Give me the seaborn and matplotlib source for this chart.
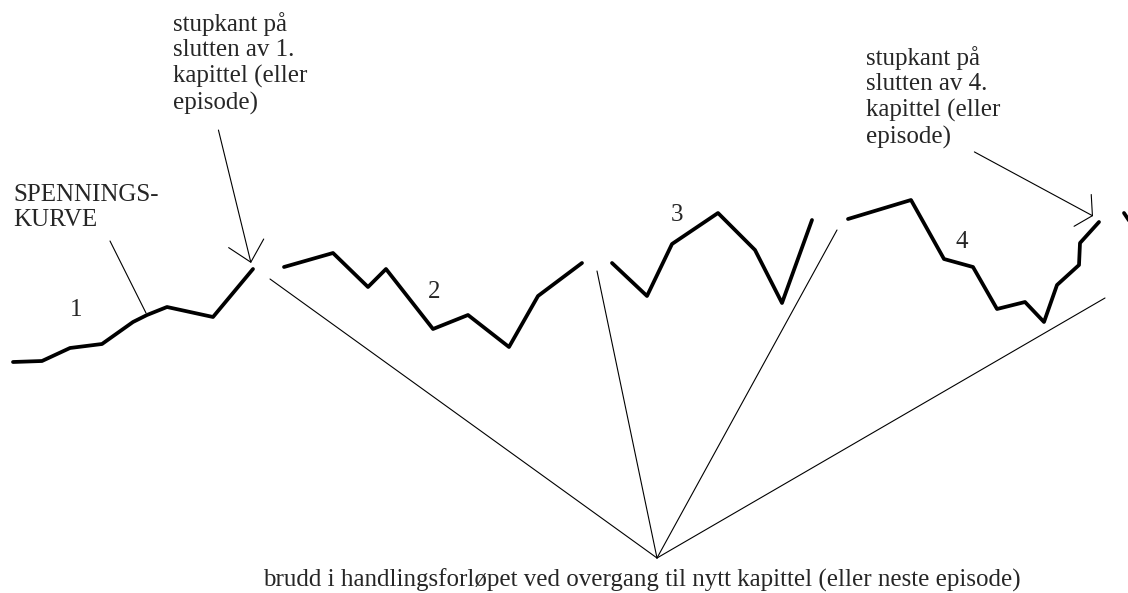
#Spenningskurve - tension curve across chapters
import numpy as np
import matplotlib.pyplot as plt
import seaborn as sns

# curve segments, one per chapter (x, y in picture units, y grows downward)
seg1_x = [13, 42, 70, 102, 133, 147, 167, 213, 253]
seg1_y = [362, 361, 348, 344, 322, 315, 307, 317, 269]
seg2_x = [284, 333, 368, 386, 433, 468, 509, 538, 582]
seg2_y = [267, 253, 287, 269, 329, 315, 347, 296, 263]
seg3_x = [612, 647, 672, 718, 755, 782, 812]
seg3_y = [263, 296, 244, 213, 250, 303, 220]
seg4_x = [848, 911, 944, 973, 997, 1025, 1044, 1057, 1079, 1080, 1099]
seg4_y = [219, 200, 259, 267, 309, 302, 322, 285, 265, 243, 222]
seg5_x = [1124, 1134]
seg5_y = [213, 228]
segments = [(seg1_x, seg1_y), (seg2_x, seg2_y), (seg3_x, seg3_y),
            (seg4_x, seg4_y), (seg5_x, seg5_y)]

chapter_labels = ['1', '2', '3', '4']
chapter_label_x = [76, 434, 677, 962]
chapter_label_y = [310, 292, 215, 242]

# breaks between chapters, all pointing to one spot above the caption
break_x = [270, 597, 837, 1105]
break_y = [279, 271, 230, 298]
hub_x, hub_y = 657, 558

cliff1_text = 'stupkant på\nslutten av 1.\nkapittel (eller\nepisode)'
cliff4_text = 'stupkant på\nslutten av 4.\nkapittel (eller\nepisode)'
curve_text = 'SPENNINGS-\nKURVE'
caption = 'brudd i handlingsforløpet ved overgang til nytt kapittel (eller neste episode)'

W, H = 1128, 593
sns.set_style('white')
plt.rcParams['font.family'] = ['Liberation Serif', 'DejaVu Serif']

fig = plt.figure(figsize=(W / 100, H / 100), dpi=100)
ax = fig.add_axes([0, 0, 1, 1])

# thick tension curve
for sx, sy in segments:
    sns.lineplot(x=sx, y=sy, sort=False, estimator=None, color='black',
                 linewidth=2.7, ax=ax)

# thin lines to the chapter breaks
for bx, by in zip(break_x, break_y):
    sns.lineplot(x=[bx, hub_x], y=[by, hub_y], sort=False, estimator=None,
                 color='black', linewidth=0.8, ax=ax)

# pointer from SPENNINGS-KURVE to curve
sns.lineplot(x=[110, 146], y=[241, 313], sort=False, estimator=None,
             color='black', linewidth=0.8, ax=ax)

fs = 18
for lab, lx, ly in zip(chapter_labels, chapter_label_x, chapter_label_y):
    ax.text(lx, ly, lab, fontsize=fs, ha='center', va='center')

ax.text(13, 184, curve_text, fontsize=fs, ha='left', va='top')

ax.annotate(cliff1_text, xy=(251, 263), xytext=(173, 12), fontsize=fs,
            ha='left', va='top',
            arrowprops=dict(arrowstyle='->,head_length=0.7,head_width=0.65',
                            mutation_scale=20, lw=0.8, color='black',
                            shrinkA=9, shrinkB=0,
                            relpos=(0.31, 0.0)))
ax.annotate(cliff4_text, xy=(1093, 216), xytext=(866, 46), fontsize=fs,
            ha='left', va='top',
            arrowprops=dict(arrowstyle='->,head_length=0.4,head_width=0.65',
                            mutation_scale=20, lw=0.8, color='black',
                            shrinkA=0, shrinkB=0,
                            relpos=(0.62, 0.1)))

ax.text(642, 587, caption, fontsize=fs, ha='center', va='baseline')

ax.set_xlim(0, W)
ax.set_ylim(H, 0)
ax.axis('off')

plt.savefig('out.png', dpi=100)
